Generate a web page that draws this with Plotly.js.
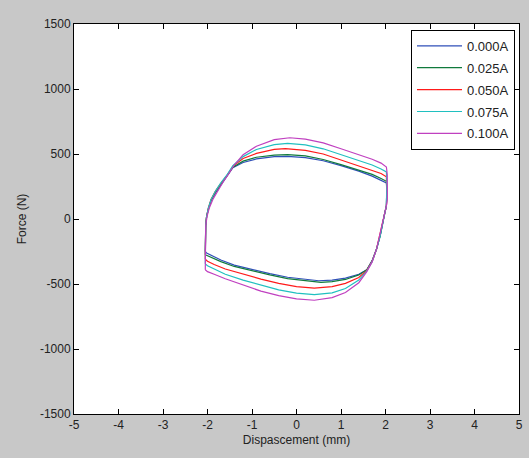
<!DOCTYPE html>
<html>
<head>
<meta charset="utf-8">
<script src="https://cdn.plot.ly/plotly-3.0.1.min.js"></script>
<style>
html,body{margin:0;padding:0;background:#c8c8c8;}
#chart{width:529px;height:458px;}
</style>
</head>
<body>
<div id="chart"></div>
<script>
const seriesNames = ["0.000A", "0.025A", "0.050A", "0.075A", "0.100A"];
const seriesColors = ["#2f4fb8", "#107a3c", "#ff1a1a", "#20c0c0", "#c040c0"];

// Each loop traced: up the left side, across the top (left to right), down the right side, back along the bottom
const disp000 = [-2.05,-2.05,-2.04,-2.02,-1.98,-1.92,-1.82,-1.7,-1.55,-1.43,-1.2,-0.9,-0.5,-0.2,0.2,0.6,1.0,1.4,1.7,1.9,2.02,2.03,2.03,2.02,1.98,1.94,1.88,1.8,1.7,1.58,1.4,1.1,0.8,0.5,0.2,-0.2,-0.6,-1.0,-1.4,-1.7,-1.9,-2.02,-2.05];
const force000 = [-250,-150,-50,20,80,140,200,260,330,395,435,462,480,482,472,448,410,368,330,300,278,230,150,100,40,-30,-130,-230,-320,-390,-425,-455,-470,-475,-465,-448,-420,-390,-355,-315,-285,-262,-250];

const disp025 = [-2.05,-2.05,-2.04,-2.02,-1.98,-1.92,-1.82,-1.7,-1.55,-1.43,-1.2,-0.9,-0.5,-0.2,0.2,0.6,1.0,1.4,1.7,1.9,2.02,2.03,2.03,2.02,1.98,1.94,1.88,1.8,1.7,1.58,1.4,1.1,0.8,0.55,0.2,-0.2,-0.6,-1.0,-1.4,-1.7,-1.9,-2.02,-2.05];
const force025 = [-275,-150,-50,20,80,145,210,270,335,398,445,475,492,495,485,458,418,378,343,312,290,240,150,100,40,-30,-130,-230,-322,-390,-430,-465,-482,-488,-475,-458,-430,-400,-365,-328,-300,-280,-275];

const disp050 = [-2.05,-2.05,-2.04,-2.02,-1.98,-1.92,-1.82,-1.7,-1.55,-1.43,-1.2,-0.9,-0.5,-0.25,0.2,0.6,1.0,1.4,1.7,1.9,2.02,2.03,2.03,2.02,1.98,1.94,1.88,1.8,1.7,1.58,1.4,1.1,0.8,0.4,0.0,-0.4,-0.8,-1.2,-1.6,-1.85,-2.0,-2.05];
const force050 = [-310,-150,-50,20,85,150,215,275,340,405,465,505,535,541,528,500,455,410,378,350,325,260,150,100,40,-30,-130,-230,-325,-395,-450,-495,-520,-532,-520,-495,-462,-425,-385,-350,-325,-310];

const disp075 = [-2.05,-2.05,-2.04,-2.02,-1.98,-1.92,-1.82,-1.7,-1.55,-1.43,-1.2,-0.9,-0.5,-0.2,0.2,0.6,1.0,1.4,1.7,1.9,2.02,2.03,2.03,2.02,1.98,1.94,1.88,1.8,1.7,1.58,1.4,1.1,0.8,0.4,0.0,-0.4,-0.8,-1.2,-1.6,-1.85,-2.0,-2.05];
const force075 = [-345,-150,-50,20,85,150,215,278,345,410,480,535,572,582,570,540,495,448,415,385,362,290,150,100,40,-30,-130,-230,-328,-400,-470,-535,-568,-582,-570,-545,-510,-470,-425,-385,-360,-345];

const disp100 = [-2.05,-2.05,-2.04,-2.01,-1.96,-1.88,-1.77,-1.65,-1.52,-1.4,-1.2,-0.9,-0.5,-0.15,0.2,0.6,1.0,1.4,1.7,1.9,2.02,2.04,2.04,2.02,1.98,1.94,1.88,1.8,1.7,1.58,1.4,1.1,0.8,0.4,0.0,-0.4,-0.8,-1.2,-1.6,-1.85,-2.0,-2.05];
const force100 = [-390,-150,-50,20,85,150,220,285,350,415,495,560,610,625,615,585,540,495,460,430,400,340,150,100,40,-30,-130,-230,-330,-405,-490,-565,-605,-625,-615,-590,-555,-510,-460,-425,-405,-390];

const xTicks = [-5,-4,-3,-2,-1,0,1,2,3,4,5];
const yTicks = [-1500,-1000,-500,0,500,1000,1500];

const xs = [disp000, disp025, disp050, disp075, disp100];
const ys = [force000, force025, force050, force075, force100];

const traces = seriesNames.map((n, i) => ({
  x: xs[i], y: ys[i], name: n, type: 'scatter', mode: 'lines',
  legendgroup: 'g' + i,
  line: {color: seriesColors[i], width: 1.2}
}));

const axisCommon = {
  showgrid: false, zeroline: false, showline: true, linecolor: '#000', linewidth: 1,
  mirror: 'ticks', ticks: 'inside', ticklen: 5, tickcolor: '#000', tickwidth: 1,
  tickfont: {family: 'Liberation Sans, Arial, sans-serif', size: 12, color: '#222'}
};

const layout = {
  width: 529, height: 458,
  paper_bgcolor: '#c8c8c8', plot_bgcolor: '#ffffff',
  margin: {l: 74, r: 10, t: 24, b: 44},
  showlegend: true,
  font: {family: 'Liberation Sans, Arial, sans-serif', size: 12, color: '#222'},
  xaxis: Object.assign({}, axisCommon, {
    range: [-5, 5], tickvals: xTicks, ticktext: xTicks.map(String),
    title: {text: 'Dispascement (mm)', font: {size: 12, color: '#222'}, standoff: 4}
  }),
  yaxis: Object.assign({}, axisCommon, {
    range: [-1500, 1500], tickvals: yTicks, ticktext: yTicks.map(String),
    title: {text: 'Force (N)', font: {size: 12, color: '#222'}, standoff: 10}
  }),
  legend: {
    x: 0.991, xanchor: 'right', y: 0.985, yanchor: 'top',
    bgcolor: '#ffffff', bordercolor: '#000', borderwidth: 1,
    font: {family: 'Liberation Sans, Arial, sans-serif', size: 13, color: '#222'},
    itemwidth: 45, tracegroupgap: 2
  }
};

Plotly.newPlot('chart', traces, layout, {displayModeBar: false, staticPlot: true});
</script>
</body>
</html>
